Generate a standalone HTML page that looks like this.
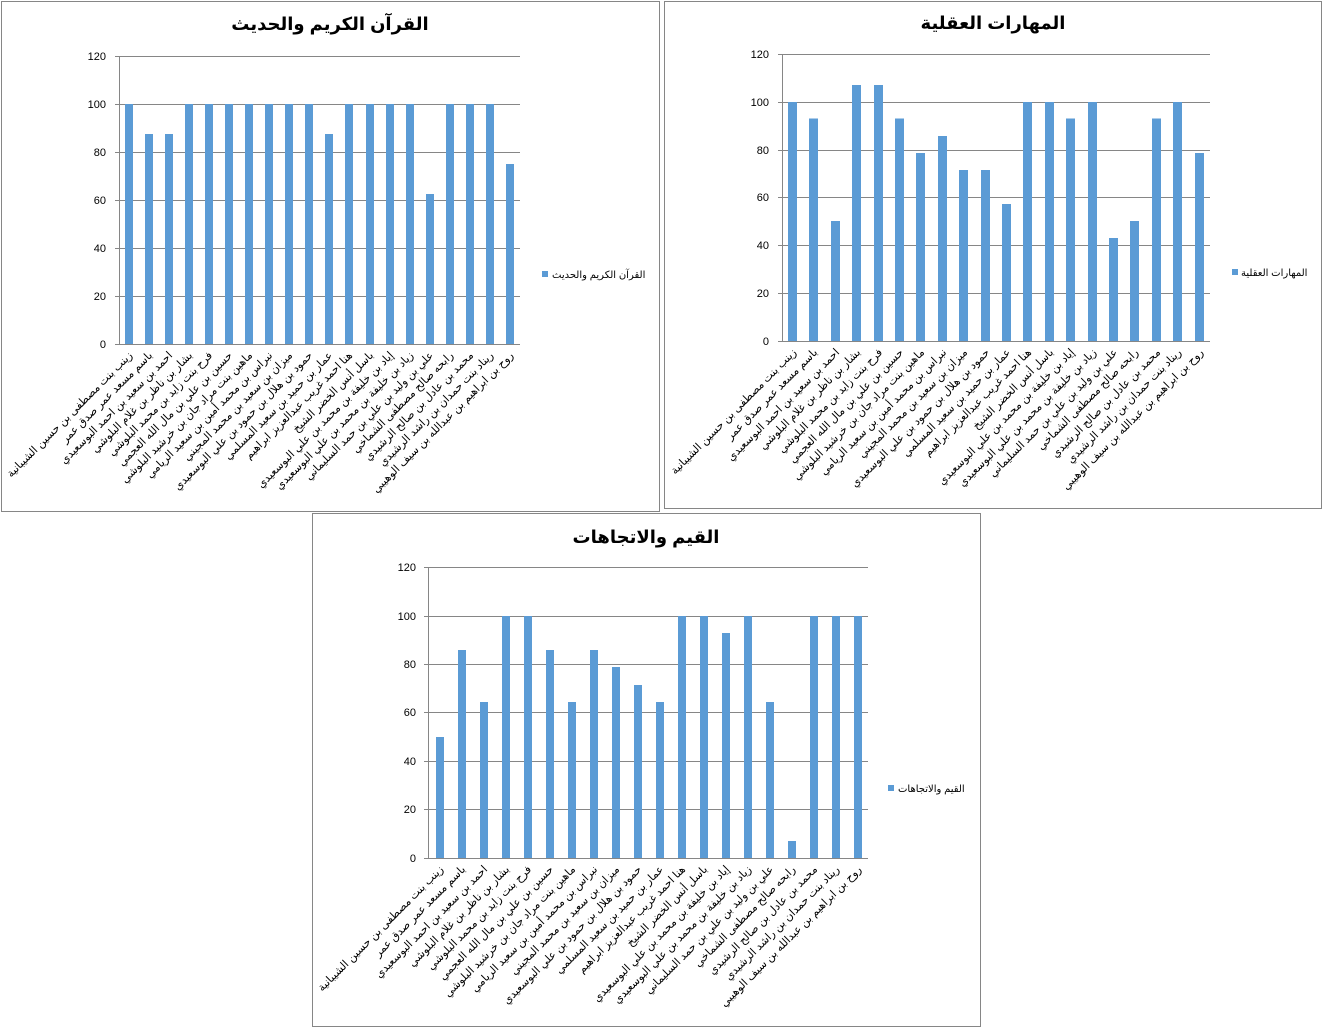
<!DOCTYPE html>
<html><head><meta charset="utf-8"><style>
body{margin:0;background:#fff}
svg{display:block;font-family:"Liberation Sans","DejaVu Sans",sans-serif}
.g{stroke:#868686;stroke-width:1}
.b{fill:#5b9bd5}
.t{font-size:11px;fill:#000}
.l{font-size:11px;fill:#000}
.lg{font-size:10px;fill:#000}
.h{font-size:18px;font-weight:bold;fill:#000}
</style></head><body>
<svg width="1324" height="1034" viewBox="0 0 1324 1034">
<rect x="1.5" y="1.5" width="658" height="510" fill="#fff" stroke="#868686"/>
<rect x="664.5" y="1.5" width="657" height="507" fill="#fff" stroke="#868686"/>
<rect x="312.5" y="513.5" width="668" height="513" fill="#fff" stroke="#868686"/>

<!-- Chart 1 -->
<text class="h" x="330" y="30" text-anchor="middle">القرآن الكريم والحديث</text>
<g class="g">
<line x1="115" y1="56.5" x2="520" y2="56.5"/><line x1="115" y1="104.5" x2="520" y2="104.5"/><line x1="115" y1="152.5" x2="520" y2="152.5"/><line x1="115" y1="200.5" x2="520" y2="200.5"/><line x1="115" y1="248.5" x2="520" y2="248.5"/><line x1="115" y1="296.5" x2="520" y2="296.5"/><line x1="115" y1="344.5" x2="520" y2="344.5"/><line x1="119.5" y1="56" x2="119.5" y2="344"/>
</g>
<g class="t" text-anchor="end"><text x="106" y="60">120</text><text x="106" y="108">100</text><text x="106" y="156">80</text><text x="106" y="204">60</text><text x="106" y="252">40</text><text x="106" y="300">20</text><text x="106" y="348">0</text></g>
<g class="b">
<rect x="125" y="104" width="8" height="240"/><rect x="145" y="134" width="8" height="210"/><rect x="165" y="134" width="8" height="210"/><rect x="185" y="104" width="8" height="240"/><rect x="205" y="104" width="8" height="240"/><rect x="225" y="104" width="8" height="240"/><rect x="245" y="104" width="8" height="240"/><rect x="265" y="104" width="8" height="240"/><rect x="285" y="104" width="8" height="240"/><rect x="305" y="104" width="8" height="240"/><rect x="325" y="134" width="8" height="210"/><rect x="345" y="104" width="8" height="240"/><rect x="366" y="104" width="8" height="240"/><rect x="386" y="104" width="8" height="240"/><rect x="406" y="104" width="8" height="240"/><rect x="426" y="194" width="8" height="150"/><rect x="446" y="104" width="8" height="240"/><rect x="466" y="104" width="8" height="240"/><rect x="486" y="104" width="8" height="240"/><rect x="506" y="164" width="8" height="180"/>
</g>
<g class="l" text-anchor="end">
<text transform="translate(133,356) rotate(-45)">زينب بنت مصطفى بن حسين الشيبانية</text>
<text transform="translate(153,356) rotate(-45)">باسم مسعد عمر صدق عمر</text>
<text transform="translate(173,356) rotate(-45)">احمد بن سعيد بن احمد البوسعيدي</text>
<text transform="translate(193,356) rotate(-45)">بشار بن ناظر بن غلام البلوشي</text>
<text transform="translate(213,356) rotate(-45)">فرح بنت زايد بن محمد البلوشي</text>
<text transform="translate(233,356) rotate(-45)">حسين بن علي بن مال الله العجمي</text>
<text transform="translate(253,356) rotate(-45)">ماهين بنت مراد جان بن خرشيد البلوشي</text>
<text transform="translate(273,356) rotate(-45)">نبراس بن محمد أمين بن سعيد الريامي</text>
<text transform="translate(293,356) rotate(-45)">ميزان بن سعيد بن محمد المجيني</text>
<text transform="translate(313,356) rotate(-45)">حمود بن هلال بن حمود بن علي البوسعيدي</text>
<text transform="translate(333,356) rotate(-45)">عمار بن حميد بن سعيد المسلمي</text>
<text transform="translate(353,356) rotate(-45)">هنا احمد غريب عبدالعزيز ابراهيم</text>
<text transform="translate(374,356) rotate(-45)">باسل أنس الخضر الشيخ</text>
<text transform="translate(394,356) rotate(-45)">إياد بن خليفة بن محمد بن علي البوسعيدي</text>
<text transform="translate(414,356) rotate(-45)">زياد بن خليفة بن محمد بن علي البوسعيدي</text>
<text transform="translate(434,356) rotate(-45)">علي بن وليد بن علي بن حمد السليماني</text>
<text transform="translate(454,356) rotate(-45)">رابحه صالح مصطفى الشماخي</text>
<text transform="translate(474,356) rotate(-45)">محمد بن عادل بن صالح الرشيدي</text>
<text transform="translate(494,356) rotate(-45)">ريناد بنت حمدان بن راشد الرشيدي</text>
<text transform="translate(514,356) rotate(-45)">روح بن ابراهيم بن عبدالله بن سيف الوهيبي</text>
</g>
<rect x="542" y="271" width="6" height="6" class="b"/><text class="lg" x="552" y="278">القرآن الكريم والحديث</text>

<!-- Chart 2 -->
<text class="h" x="993" y="29" text-anchor="middle">المهارات العقلية</text>
<g class="g">
<line x1="778" y1="54.5" x2="1210" y2="54.5"/><line x1="778" y1="102.5" x2="1210" y2="102.5"/><line x1="778" y1="150.5" x2="1210" y2="150.5"/><line x1="778" y1="197.5" x2="1210" y2="197.5"/><line x1="778" y1="245.5" x2="1210" y2="245.5"/><line x1="778" y1="293.5" x2="1210" y2="293.5"/><line x1="778" y1="341.5" x2="1210" y2="341.5"/><line x1="782.5" y1="54" x2="782.5" y2="341"/>
</g>
<g class="t" text-anchor="end"><text x="769" y="58">120</text><text x="769" y="106">100</text><text x="769" y="154">80</text><text x="769" y="201">60</text><text x="769" y="249">40</text><text x="769" y="297">20</text><text x="769" y="345">0</text></g>
<g class="b">
<rect x="788" y="102" width="9" height="239"/><rect x="809" y="118.5" width="9" height="222.5"/><rect x="831" y="221" width="9" height="120"/><rect x="852" y="85" width="9" height="256"/><rect x="874" y="85" width="9" height="256"/><rect x="895" y="118.5" width="9" height="222.5"/><rect x="916" y="153" width="9" height="188"/><rect x="938" y="136" width="9" height="205"/><rect x="959" y="170" width="9" height="171"/><rect x="981" y="170" width="9" height="171"/><rect x="1002" y="204" width="9" height="137"/><rect x="1023" y="102" width="9" height="239"/><rect x="1045" y="102" width="9" height="239"/><rect x="1066" y="118.5" width="9" height="222.5"/><rect x="1088" y="102" width="9" height="239"/><rect x="1109" y="238" width="9" height="103"/><rect x="1130" y="221" width="9" height="120"/><rect x="1152" y="118.5" width="9" height="222.5"/><rect x="1173" y="102" width="9" height="239"/><rect x="1195" y="153" width="9" height="188"/>
</g>
<g class="l" text-anchor="end">
<text transform="translate(797,353) rotate(-45)">زينب بنت مصطفى بن حسين الشيبانية</text>
<text transform="translate(818,353) rotate(-45)">باسم مسعد عمر صدق عمر</text>
<text transform="translate(840,353) rotate(-45)">احمد بن سعيد بن احمد البوسعيدي</text>
<text transform="translate(861,353) rotate(-45)">بشار بن ناظر بن غلام البلوشي</text>
<text transform="translate(883,353) rotate(-45)">فرح بنت زايد بن محمد البلوشي</text>
<text transform="translate(904,353) rotate(-45)">حسين بن علي بن مال الله العجمي</text>
<text transform="translate(925,353) rotate(-45)">ماهين بنت مراد جان بن خرشيد البلوشي</text>
<text transform="translate(947,353) rotate(-45)">نبراس بن محمد أمين بن سعيد الريامي</text>
<text transform="translate(968,353) rotate(-45)">ميزان بن سعيد بن محمد المجيني</text>
<text transform="translate(990,353) rotate(-45)">حمود بن هلال بن حمود بن علي البوسعيدي</text>
<text transform="translate(1011,353) rotate(-45)">عمار بن حميد بن سعيد المسلمي</text>
<text transform="translate(1032,353) rotate(-45)">هنا احمد غريب عبدالعزيز ابراهيم</text>
<text transform="translate(1054,353) rotate(-45)">باسل أنس الخضر الشيخ</text>
<text transform="translate(1075,353) rotate(-45)">إياد بن خليفة بن محمد بن علي البوسعيدي</text>
<text transform="translate(1097,353) rotate(-45)">زياد بن خليفة بن محمد بن علي البوسعيدي</text>
<text transform="translate(1118,353) rotate(-45)">علي بن وليد بن علي بن حمد السليماني</text>
<text transform="translate(1139,353) rotate(-45)">رابحه صالح مصطفى الشماخي</text>
<text transform="translate(1161,353) rotate(-45)">محمد بن عادل بن صالح الرشيدي</text>
<text transform="translate(1182,353) rotate(-45)">ريناد بنت حمدان بن راشد الرشيدي</text>
<text transform="translate(1204,353) rotate(-45)">روح بن ابراهيم بن عبدالله بن سيف الوهيبي</text>
</g>
<rect x="1232" y="269" width="6" height="6" class="b"/><text class="lg" x="1241" y="276">المهارات العقلية</text>

<!-- Chart 3 -->
<text class="h" x="646" y="543" text-anchor="middle">القيم والاتجاهات</text>
<g class="g">
<line x1="424" y1="567.5" x2="868" y2="567.5"/><line x1="424" y1="616.5" x2="868" y2="616.5"/><line x1="424" y1="664.5" x2="868" y2="664.5"/><line x1="424" y1="712.5" x2="868" y2="712.5"/><line x1="424" y1="761.5" x2="868" y2="761.5"/><line x1="424" y1="809.5" x2="868" y2="809.5"/><line x1="424" y1="858.5" x2="868" y2="858.5"/><line x1="428.5" y1="567" x2="428.5" y2="858"/>
</g>
<g class="t" text-anchor="end"><text x="416" y="571">120</text><text x="416" y="620">100</text><text x="416" y="668">80</text><text x="416" y="716">60</text><text x="416" y="765">40</text><text x="416" y="813">20</text><text x="416" y="862">0</text></g>
<g class="b">
<rect x="436" y="737" width="8" height="121"/><rect x="458" y="650" width="8" height="208"/><rect x="480" y="702" width="8" height="156"/><rect x="502" y="616" width="8" height="242"/><rect x="524" y="616" width="8" height="242"/><rect x="546" y="650" width="8" height="208"/><rect x="568" y="702" width="8" height="156"/><rect x="590" y="650" width="8" height="208"/><rect x="612" y="667" width="8" height="191"/><rect x="634" y="685" width="8" height="173"/><rect x="656" y="702" width="8" height="156"/><rect x="678" y="616" width="8" height="242"/><rect x="700" y="616" width="8" height="242"/><rect x="722" y="633" width="8" height="225"/><rect x="744" y="616" width="8" height="242"/><rect x="766" y="702" width="8" height="156"/><rect x="788" y="841" width="8" height="17"/><rect x="810" y="616" width="8" height="242"/><rect x="832" y="616" width="8" height="242"/><rect x="854" y="616" width="8" height="242"/>
</g>
<g class="l" text-anchor="end">
<text transform="translate(444,870) rotate(-45)">زينب بنت مصطفى بن حسين الشيبانية</text>
<text transform="translate(466,870) rotate(-45)">باسم مسعد عمر صدق عمر</text>
<text transform="translate(488,870) rotate(-45)">احمد بن سعيد بن احمد البوسعيدي</text>
<text transform="translate(510,870) rotate(-45)">بشار بن ناظر بن غلام البلوشي</text>
<text transform="translate(532,870) rotate(-45)">فرح بنت زايد بن محمد البلوشي</text>
<text transform="translate(554,870) rotate(-45)">حسين بن علي بن مال الله العجمي</text>
<text transform="translate(576,870) rotate(-45)">ماهين بنت مراد جان بن خرشيد البلوشي</text>
<text transform="translate(598,870) rotate(-45)">نبراس بن محمد أمين بن سعيد الريامي</text>
<text transform="translate(620,870) rotate(-45)">ميزان بن سعيد بن محمد المجيني</text>
<text transform="translate(642,870) rotate(-45)">حمود بن هلال بن حمود بن علي البوسعيدي</text>
<text transform="translate(664,870) rotate(-45)">عمار بن حميد بن سعيد المسلمي</text>
<text transform="translate(686,870) rotate(-45)">هنا احمد غريب عبدالعزيز ابراهيم</text>
<text transform="translate(708,870) rotate(-45)">باسل أنس الخضر الشيخ</text>
<text transform="translate(730,870) rotate(-45)">إياد بن خليفة بن محمد بن علي البوسعيدي</text>
<text transform="translate(752,870) rotate(-45)">زياد بن خليفة بن محمد بن علي البوسعيدي</text>
<text transform="translate(774,870) rotate(-45)">علي بن وليد بن علي بن حمد السليماني</text>
<text transform="translate(796,870) rotate(-45)">رابحه صالح مصطفى الشماخي</text>
<text transform="translate(818,870) rotate(-45)">محمد بن عادل بن صالح الرشيدي</text>
<text transform="translate(840,870) rotate(-45)">ريناد بنت حمدان بن راشد الرشيدي</text>
<text transform="translate(862,870) rotate(-45)">روح بن ابراهيم بن عبدالله بن سيف الوهيبي</text>
</g>
<rect x="888" y="785" width="6" height="6" class="b"/><text class="lg" x="898" y="792">القيم والاتجاهات</text>
</svg>
</body></html>
